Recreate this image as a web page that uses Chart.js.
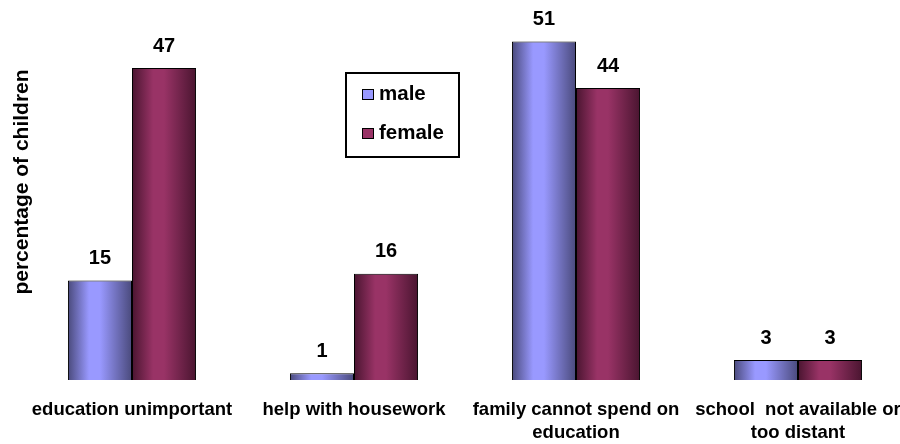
<!DOCTYPE html>
<html>
<head>
<meta charset="utf-8">
<script src="https://cdn.jsdelivr.net/npm/chart.js"></script>
<style>
  html, body { margin: 0; padding: 0; background: #fff; overflow: hidden; }
  #wrap { width: 900px; height: 444px; overflow: hidden; }
</style>
</head>
<body>
<div id="wrap"><canvas id="reasonsChart" width="912" height="454"></canvas></div>
<script>
// reasons for not attending school, by sex
const categories = [
  ["education unimportant"],
  ["help with housework"],
  ["family cannot spend on", "education"],
  ["school  not available or", "too distant"],
];
const maleValues = [15, 1, 51, 3];
const femaleValues = [47, 16, 44, 3];
const seriesNames = ["male", "female"];

const FONT = "'Liberation Sans', Arial, sans-serif";
const CAT_PCT = 0.577;

// edge / highlight colours for the cylinder-like shading
const shades = [
  { edge: "#4a4a7c", mid: "#9999ff" },
  { edge: "#4a1530", mid: "#993366" },
];

// horizontal gradient across one bar, worked out from the x scale
const shadeFor = (c) => {
  const chart = c.chart;
  const xs = chart.scales.x;
  const s = shades[c.datasetIndex];
  if (!xs || !xs.width) return s.mid;
  const groupW = (xs.width / categories.length) * CAT_PCT;
  const barW = groupW / 2;
  const left = xs.getPixelForValue(c.dataIndex) - groupW / 2 + c.datasetIndex * barW;
  const g = chart.ctx.createLinearGradient(left, 0, left + barW, 0);
  g.addColorStop(0, s.edge);
  g.addColorStop(0.33, s.mid);
  g.addColorStop(0.5, s.mid);
  g.addColorStop(1, s.edge);
  return g;
};

const valueLabelPlugin = {
  id: "valueLabels",
  afterDatasetsDraw: (chart) => {
    const { ctx } = chart;
    ctx.save();
    ctx.font = "bold 20px " + FONT;
    ctx.fillStyle = "#000";
    ctx.textAlign = "center";
    ctx.textBaseline = "middle";
    chart.data.datasets.forEach((ds, i) => {
      chart.getDatasetMeta(i).data.forEach((bar, j) => {
        ctx.fillText(String(ds.data[j]), bar.x, bar.y - 22);
      });
    });
    ctx.restore();
  },
};

const boxLegendPlugin = {
  id: "boxLegend",
  afterDraw: (chart) => {
    const { ctx } = chart;
    ctx.save();
    ctx.lineWidth = 2;
    ctx.strokeStyle = "#000";
    ctx.strokeRect(346, 73, 113, 84);
    ctx.font = "bold 20.5px " + FONT;
    ctx.textBaseline = "alphabetic";
    chart.data.datasets.forEach((ds, i) => {
      const base = 100 + i * 39;
      ctx.fillStyle = shades[i].mid;
      ctx.fillRect(362, base - 11, 12, 11);
      ctx.lineWidth = 1;
      ctx.strokeStyle = "#000";
      ctx.strokeRect(362.5, base - 10.5, 11, 10);
      ctx.fillStyle = "#000";
      ctx.fillText(ds.label, 379, base);
    });
    ctx.restore();
  },
};

const yTitlePlugin = {
  id: "yTitle",
  afterDraw: (chart) => {
    const { ctx } = chart;
    ctx.save();
    ctx.translate(22, 182);
    ctx.rotate(-Math.PI / 2);
    ctx.font = "bold 21px " + FONT;
    ctx.fillStyle = "#000";
    ctx.textAlign = "center";
    ctx.textBaseline = "middle";
    ctx.fillText("percentage of children", 0, 0);
    ctx.restore();
  },
};

new Chart(document.getElementById("reasonsChart"), {
  type: "bar",
  data: {
    labels: categories,
    datasets: [
      {
        label: seriesNames[0],
        data: maleValues,
        backgroundColor: shadeFor,
        borderColor: "#000",
        borderWidth: 1,
        categoryPercentage: CAT_PCT,
        barPercentage: 1.0,
      },
      {
        label: seriesNames[1],
        data: femaleValues,
        backgroundColor: shadeFor,
        borderColor: "#000",
        borderWidth: 1,
        categoryPercentage: CAT_PCT,
        barPercentage: 1.0,
      },
    ],
  },
  plugins: [valueLabelPlugin, boxLegendPlugin, yTitlePlugin],
  options: {
    responsive: false,
    animation: false,
    layout: { padding: { top: 15, left: 21, right: 3, bottom: 0 } },
    plugins: {
      legend: { display: false },
      tooltip: { enabled: false },
    },
    scales: {
      y: {
        display: false,
        min: 0,
        max: 55,
      },
      x: {
        grid: { display: false },
        border: { display: false },
        ticks: {
          color: "#000",
          padding: 10,
          maxRotation: 0,
          autoSkip: false,
          font: { family: FONT, size: 18.5, weight: "bold", lineHeight: 1.243 },
        },
      },
    },
  },
});
</script>
</body>
</html>
